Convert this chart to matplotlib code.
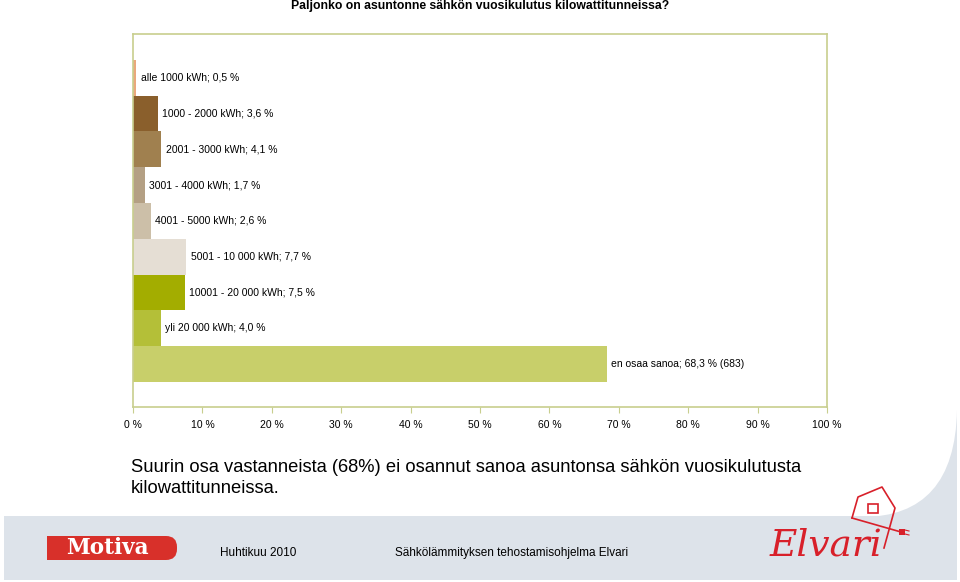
import matplotlib.pyplot as plt
from matplotlib.patches import FancyBboxPatch, Rectangle, PathPatch
from matplotlib.path import Path

plt.rcParams['font.family'] = ['Liberation Sans', 'DejaVu Sans']

# data
categories = ['alle 1000 kWh', '1000 - 2000 kWh', '2001 - 3000 kWh', '3001 - 4000 kWh',
              '4001 - 5000 kWh', '5001 - 10 000 kWh', '10001 - 20 000 kWh',
              'yli 20 000 kWh', 'en osaa sanoa']
values = [0.5, 3.6, 4.1, 1.7, 2.6, 7.7, 7.5, 4.0, 68.3]
value_text = ['0,5 %', '3,6 %', '4,1 %', '1,7 %', '2,6 %', '7,7 %', '7,5 %', '4,0 %', '68,3 % (683)']
colors = ['#eaa87c', '#8a5f2c', '#a0804f', '#b4a084', '#ccbfa8', '#e5ded4',
          '#a3ad00', '#b4bf38', '#c8cf6a']
xticks = list(range(0, 101, 10))
xticklabels = [f'{t} %' for t in xticks]

title = 'Paljonko on asuntonne sähkön vuosikulutus kilowattitunneissa?'
note = ('Suurin osa vastanneista (68%) ei osannut sanoa asuntonsa sähkön vuosikulutusta\n'
        'kilowattitunneissa.')

W, H = 960, 582
fig = plt.figure(figsize=(9.6, 5.82), dpi=100)

# background layer in pixel coordinates
bg = fig.add_axes([0, 0, 1, 1], zorder=0)
bg.set_xlim(0, W)
bg.set_ylim(H, 0)
bg.axis('off')
band = '#dde3ea'
bg.add_patch(Rectangle((4, 516), 953, 64, color=band, lw=0))
curve = Path([(957, 410), (955, 517), (862, 517), (957, 517), (957, 410)],
             [Path.MOVETO, Path.CURVE3, Path.CURVE3, Path.LINETO, Path.CLOSEPOLY])
bg.add_patch(PathPatch(curve, color=band, lw=0))

bg.text(480, 6, title, ha='center', va='center', fontsize=8.8, fontweight='bold')
bg.text(131, 478, note, ha='left', va='center', fontsize=13.2, linespacing=1.3)

# Motiva logo
red = '#d8302a'
bg.add_patch(FancyBboxPatch((47, 536), 130, 24, boxstyle='round,pad=0,rounding_size=11',
                            color=red, lw=0))
bg.add_patch(Rectangle((47, 536), 20, 24, color=red, lw=0))
bg.text(107, 548, 'Motiva', ha='center', va='center', fontsize=15.5, color='white',
        fontweight='bold', family='DejaVu Serif')

bg.text(220, 553, 'Huhtikuu 2010', ha='left', va='center', fontsize=8.5)
bg.text(395, 553, 'Sähkölämmityksen tehostamisohjelma Elvari', ha='left', va='center', fontsize=8.5)

# Elvari logo
lred = '#d8202a'
bg.plot([852, 858, 882, 895, 884], [518, 497, 487, 508, 548], color=lred, lw=1.2)
bg.plot([852, 901], [518, 532], color=lred, lw=1.2)
bg.add_patch(Rectangle((868, 504), 10, 9, fill=False, ec=lred, lw=1.2))
bg.add_patch(Rectangle((899, 529), 6, 6, color=lred, lw=0))
bg.plot([905, 909], [530, 531], color=lred, lw=0.8)
bg.plot([905, 909], [534, 535], color=lred, lw=0.8)
bg.text(826, 546, 'Elvari', ha='center', va='center', fontsize=27, color=lred,
        family='DejaVu Serif', style='italic')

# chart
ax = fig.add_axes([133 / W, 1 - 407 / H, 694 / W, 373 / H], zorder=1)
ypos = list(range(len(values)))
ax.barh(ypos, values, height=1.0, color=colors, lw=0)
for y, v, c, t in zip(ypos, values, categories, value_text):
    ax.annotate(f'{c}; {t}', (v, y), xytext=(3, 0), textcoords='offset points',
                ha='left', va='center', fontsize=7.5)

ax.set_xlim(0, 100)
ax.set_ylim(len(values) - 1 + 1.2, -1.22)
ax.set_xticks(xticks)
ax.set_xticklabels(xticklabels, fontsize=7.5)
ax.set_yticks([])
frame = '#c8ce8e'
for s in ax.spines.values():
    s.set_color(frame)
    s.set_linewidth(1.2)
ax.tick_params(axis='x', length=4, color=frame, pad=5)

fig.savefig('out.png', dpi=100)
